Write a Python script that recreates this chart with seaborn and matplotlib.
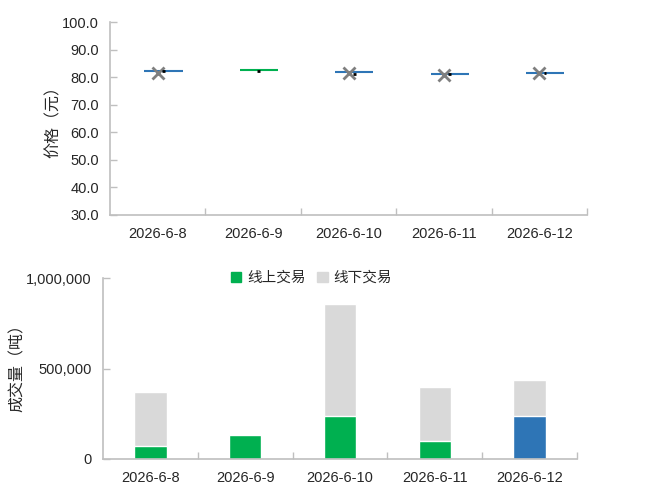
import matplotlib
matplotlib.use("Agg")
import matplotlib.pyplot as plt
import seaborn as sns
import pandas as pd
import numpy as np
from matplotlib.ticker import FuncFormatter, MultipleLocator
from matplotlib.patches import Patch

dates = ["2026-6-8", "2026-6-9", "2026-6-10", "2026-6-11", "2026-6-12"]
close_price = [82.3, 82.5, 81.75, 81.1, 81.4]
avg_price = [81.4, np.nan, 81.4, 80.8, 81.4]
dash_price = [82.1, 82.2, 81.25, 81.0, 81.4]
candle_colors = ["#2e75b6", "#00b050", "#2e75b6", "#2e75b6", "#2e75b6"]
online_volume = [72000, 133000, 238000, 100000, 238000]
total_volume = [370000, 133000, 856000, 398000, 436000]
online_colors = ["#00b050", "#00b050", "#00b050", "#00b050", "#2e75b6"]

sns.set_theme(style="white")
plt.rcParams["font.family"] = ["Liberation Sans", "Noto Sans CJK SC", "DejaVu Sans"]
cjk = ["Noto Sans CJK SC", "DejaVu Sans"]
axis_color = "#bfbfbf"
text_color = "#262626"

fig = plt.figure(figsize=(6.59, 5.03), dpi=100)
ax1 = fig.add_axes([110 / 659, 1 - 215 / 503, (587 - 110) / 659, (215 - 22) / 503])
ax2 = fig.add_axes([103 / 659, 1 - 459 / 503, (577 - 103) / 659, (459 - 278) / 503])

# ---- top: price chart ----
x = list(range(len(dates)))
df_p = pd.DataFrame({"x": x, "avg": avg_price})
for i, (c, col) in enumerate(zip(close_price, candle_colors)):
    ax1.hlines(c, i + 0.06 - 0.2, i + 0.06 + 0.2, color=col, lw=1.5, zorder=2)
    ax1.hlines(dash_price[i], i + 0.045, i + 0.075, color="black", lw=2.0, zorder=4)
sns.scatterplot(data=df_p.dropna(), x="x", y="avg", marker="x", s=75, color="#7f7f7f",
                linewidth=2.0, ax=ax1, zorder=3, legend=False)
ax1.set_xlim(-0.5, 4.5)
ax1.set_ylim(30, 100)
ax1.yaxis.set_major_locator(MultipleLocator(10))
ax1.yaxis.set_major_formatter(FuncFormatter(lambda v, p: f"{v:.1f}"))
ax1.set_xticks(x)
ax1.set_xticklabels(dates)
ax1.set_xticks([i + 0.5 for i in x], minor=True)
ax1.set_xlabel("")
ax1.set_ylabel("价格（元）", family=cjk, fontsize=11.5, color=text_color)
ax1.yaxis.set_label_coords(-0.10, 0.5)

# ---- bottom: volume chart ----
df_v = pd.DataFrame({"date": dates, "total": total_volume, "online": online_volume})
sns.barplot(data=df_v, x="date", y="total", color="#d9d9d9", width=0.34,
            saturation=1, ax=ax2)
sns.barplot(data=df_v, x="date", y="online", hue="date", palette=online_colors,
            width=0.34, saturation=1, ax=ax2, legend=False)
ax2.set_xlim(-0.5, 4.5)
ax2.set_ylim(0, 1000000)
ax2.set_yticks([0, 500000, 1000000])
ax2.yaxis.set_major_formatter(FuncFormatter(lambda v, p: f"{int(v):,}"))
ax2.set_xticks([i + 0.5 for i in x], minor=True)
ax2.set_xlabel("")
ax2.set_ylabel("成交量（吨）", family=cjk, fontsize=11.5, color=text_color)
ax2.yaxis.set_label_coords(-0.163, 0.525)
handles = [Patch(color="#00b050"), Patch(color="#d9d9d9")]
leg = ax2.legend(handles, ["线上交易", "线下交易"], loc="center", bbox_to_anchor=(0.44, 1.0),
                 ncol=2, frameon=False, handlelength=0.7, handleheight=0.7,
                 handletextpad=0.4, columnspacing=0.8, prop={"family": cjk, "size": 10.5})
for t in leg.get_texts():
    t.set_color(text_color)

for ax in (ax1, ax2):
    for s in ("top", "right"):
        ax.spines[s].set_visible(False)
    for s in ("left", "bottom"):
        ax.spines[s].set_color(axis_color)
        ax.spines[s].set_linewidth(1.2)
    ax.tick_params(axis="y", which="major", direction="in", length=5, color=axis_color,
                   width=1, labelsize=10.5, labelcolor=text_color, pad=8, left=True)
    ax.tick_params(axis="x", which="major", length=0, labelsize=10.5,
                   labelcolor=text_color, pad=9)
    ax.tick_params(axis="x", which="minor", direction="in", length=5, color=axis_color,
                   width=1, bottom=True)
    ax.grid(False)

fig.savefig("out.png", dpi=100)
